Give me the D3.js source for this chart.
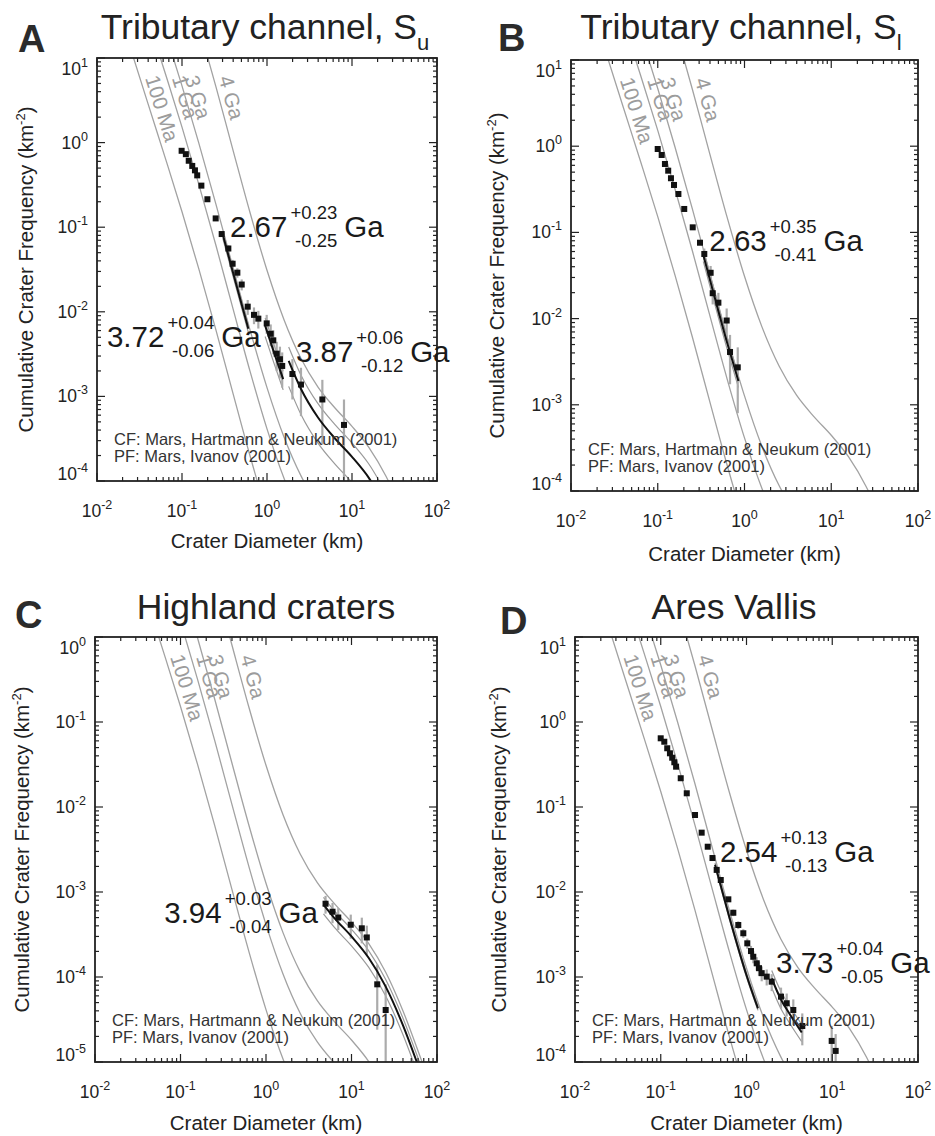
<!DOCTYPE html>
<html>
<head>
<meta charset="utf-8">
<script src="https://cdn.jsdelivr.net/npm/d3@7"></script>
<style>
  body { margin: 0; background: #fff; }
  text { font-family: "Liberation Sans", Arial, Helvetica, sans-serif; fill: #222; }
</style>
</head>
<body>
<svg id="fig" width="935" height="1136"></svg>
<script>
// isochrons (Hartmann & Neukum 2001 CF, Ivanov 2001 PF), cumulative N (km^-2) at these diameters (km)
const isoDiam = [0.0251, 0.0398, 0.0631, 0.1, 0.158, 0.251, 0.398, 0.631, 1, 1.585, 2.512, 3.981, 6.31, 10, 15.85, 25.12, 39.81, 63.1, 100];
const iso100Ma = [12.49, 2.891, 0.6737, 0.1524, 0.0319, 0.006077, 0.001088, 1.989e-4, 4.13e-5, 1.077e-5, 3.743e-6];
const iso1Ga = [124.9, 28.91, 6.737, 1.524, 0.319, 0.06077, 0.01088, 0.001989, 4.13e-4, 1.077e-4, 3.743e-5, 1.723e-5, 9.734e-6, 5.91e-6];
const iso3Ga = [383.2, 88.72, 20.68, 4.676, 0.9793, 0.1865, 0.03341, 0.006105, 0.001268, 3.306e-4, 1.149e-4, 5.288e-5, 2.988e-5, 1.814e-5, 1.018e-5, 4.66e-6];
const iso4Ga = [9357, 2165, 504.9, 114.2, 23.9, 4.553, 0.8155, 0.1491, 0.03094, 0.008071, 0.002805, 0.001291, 7.294e-4, 4.429e-4, 2.484e-4, 1.137e-4, 4.039e-5, 1.175e-5, 3.261e-6];
const isoNames = ["100 Ma", "1 Ga", "3 Ga", "4 Ga"];
const isochrons = [iso100Ma, iso1Ga, iso3Ga, iso4Ga];

// A: tributary channel, upper surface
const aDiam = [0.099, 0.111, 0.120, 0.132, 0.142, 0.151, 0.169, 0.199, 0.249, 0.293, 0.351, 0.394, 0.448, 0.504, 0.593, 0.703, 0.791, 0.992, 1.105, 1.186, 1.30, 1.42, 1.51, 1.99, 2.51, 4.48, 8.05];
const aFreq = [0.80, 0.73, 0.61, 0.53, 0.47, 0.41, 0.31, 0.214, 0.127, 0.083, 0.056, 0.037, 0.029, 0.021, 0.0115, 0.0092, 0.0083, 0.0073, 0.0055, 0.0046, 0.0032, 0.00275, 0.00229, 0.00184, 0.00138, 0.00092, 0.00046];
const aLo = [null, null, null, null, null, null, null, null, null, null, 0.0509, 0.0329, 0.0253, 0.0179, 0.0092, 0.00714, 0.00634, 0.0055, 0.00391, 0.00315, 0.00199, 0.00163, 0.00127, 0.00092, 0.000584, 0.00027, 1e-7];
const aHi = [null, null, null, null, null, null, null, null, null, null, 0.0611, 0.0411, 0.0327, 0.0241, 0.0138, 0.01126, 0.01026, 0.0092, 0.00709, 0.00605, 0.00442, 0.00387, 0.00331, 0.00276, 0.00218, 0.00157, 0.00092];

// B: tributary channel, lower surface
const bDiam = [0.0999, 0.111, 0.121, 0.132, 0.142, 0.154, 0.173, 0.202, 0.253, 0.307, 0.344, 0.407, 0.430, 0.50, 0.623, 0.681, 0.836];
const bFreq = [0.928, 0.791, 0.622, 0.52, 0.425, 0.355, 0.279, 0.187, 0.1145, 0.0759, 0.0562, 0.034, 0.0197, 0.0153, 0.0095, 0.0041, 0.00272];
const bLo = [null, null, null, null, null, null, null, null, null, null, 0.0474, 0.0272, 0.0146, 0.0107, 0.0059, 0.00173, 0.0008];
const bHi = [null, null, null, null, null, null, null, null, null, null, 0.065, 0.0408, 0.0248, 0.0199, 0.0131, 0.00647, 0.00464];

// C: highland craters
const cDiam = [4.97, 6.0, 7.0, 9.8, 13.2, 15.1, 20.0, 25.1];
const cFreq = [7.28e-4, 5.86e-4, 5.01e-4, 4.12e-4, 3.74e-4, 2.92e-4, 8.2e-5, 4.09e-5];
const cLo = [5.56e-4, 4.29e-4, 3.56e-4, 2.82e-4, 2.49e-4, 1.82e-4, 2.4e-5, 1e-7];
const cHi = [9.0e-4, 7.42e-4, 6.46e-4, 5.42e-4, 4.99e-4, 4.02e-4, 1.4e-4, 8.18e-5];

// D: Ares Vallis
const dDiam = [0.0999, 0.110, 0.119, 0.128, 0.136, 0.144, 0.151, 0.171, 0.201, 0.251, 0.300, 0.353, 0.401, 0.449, 0.501, 0.614, 0.702, 0.802, 0.918, 1.022, 1.128, 1.20, 1.315, 1.399, 1.504, 1.72, 1.967, 2.526, 2.943, 3.514, 4.474, 9.85, 10.96];
const dFreq = [0.643, 0.586, 0.491, 0.4285, 0.38, 0.336, 0.298, 0.218, 0.145, 0.0805, 0.0499, 0.0341, 0.0251, 0.0182, 0.01384, 0.0082, 0.0057, 0.00409, 0.00327, 0.00249, 0.00202, 0.00173, 0.00145, 0.00127, 0.00111, 0.00101, 8.81e-4, 5.87e-4, 4.91e-4, 4.09e-4, 2.65e-4, 1.77e-4, 1.35e-4];
const dLo = [null, null, null, null, null, null, null, null, null, null, null, null, null, null, null, null, 5.2e-3, 3.66e-3, 2.89e-3, 2.15e-3, 1.72e-3, 1.45e-3, 1.19e-3, 1.03e-3, 8.9e-4, 7.95e-4, 6.82e-4, 4.24e-4, 3.43e-4, 2.73e-4, 1.57e-4, 8.85e-5, 5.7e-5];
const dHi = [null, null, null, null, null, null, null, null, null, null, null, null, null, null, null, null, 6.2e-3, 4.52e-3, 3.65e-3, 2.83e-3, 2.32e-3, 2.01e-3, 1.71e-3, 1.51e-3, 1.33e-3, 1.225e-3, 1.08e-3, 7.5e-4, 6.39e-4, 5.45e-4, 3.73e-4, 2.66e-4, 2.13e-4];

// model age fits: isochron of the fitted age over the fit range, plus upper/lower age bounds
const aFits = [
  {diam: [0.302, 0.398, 0.501, 0.603], freq: [0.08177, 0.02913, 0.01245, 0.006311],
   upper: [0.0904, 0.03221, 0.01377, 0.006979], lower: [0.07395, 0.02635, 0.01126, 0.005708]},
  {diam: [0.951, 1.202, 1.549], freq: [0.006833, 0.003357, 0.001602],
   upper: [0.008445, 0.00415, 0.001982], lower: [0.005097, 0.002504, 0.001196]},
  {diam: [1.799, 2.512, 3.981, 6.31, 10, 15.85, 25.12], freq: [2.633e-3, 1.223e-3, 5.63e-4, 3.18e-4, 1.931e-4, 1.083e-4, 4.96e-5],
   upper: [3.834e-3, 1.782e-3, 8.204e-4, 4.634e-4, 2.814e-4, 1.578e-4, 7.224e-5], lower: [1.313e-3, 6.099e-4, 2.808e-4, 1.586e-4, 9.632e-5, 5.403e-5, 2.473e-5]}
];
const bFits = [
  {diam: [0.335, 0.398, 0.631, 0.851], freq: [0.05465, 0.02868, 0.005242, 0.001887],
   upper: [0.06307, 0.03309, 0.006047, 0.002177], lower: [0.04605, 0.02416, 0.004417, 0.00159]}
];
const cFits = [
  {diam: [4.699, 6.31, 10, 15.85, 25.12, 39.81, 63.1, 100], freq: [7.118e-4, 4.94e-4, 2.999e-4, 1.682e-4, 7.699e-5, 2.735e-5, 7.957e-6, 2.208e-6],
   upper: [8.64e-4, 5.995e-4, 3.64e-4, 2.042e-4, 9.346e-5, 3.32e-5, 9.658e-6, 2.68e-6], lower: [5.522e-4, 3.831e-4, 2.326e-4, 1.305e-4, 5.973e-5, 2.121e-5, 6.171e-6, 1.713e-6]}
];
const dFits = [
  {diam: [0.4295, 0.631, 1, 1.361], freq: [0.0209, 0.005058, 0.00105, 4.267e-4],
   upper: [0.022, 0.005324, 0.001106, 4.492e-4], lower: [0.01982, 0.004797, 9.959e-4, 4.046e-4]},
  {diam: [1.968, 2.512, 3.162, 4.406], freq: [9.603e-4, 5.483e-4, 3.72e-4, 2.226e-4],
   upper: [1.191e-3, 6.804e-4, 4.617e-4, 2.762e-4], lower: [7.474e-4, 4.269e-4, 2.895e-4, 1.733e-4]}
];

// fitted ages, placed at (diameter, frequency)
const aAges = [
  {diam: 0.367, freq: 0.0766, age: "2.67", plus: "+0.23", minus: "-0.25"},
  {diam: 0.0131, freq: 0.00387, age: "3.72", plus: "+0.04", minus: "-0.06"},
  {diam: 2.19, freq: 0.00257, age: "3.87", plus: "+0.06", minus: "-0.12"}
];
const bAges = [{diam: 0.393, freq: 0.0613, age: "2.63", plus: "+0.35", minus: "-0.41"}];
const cAges = [{diam: 0.0646, freq: 4.28e-4, age: "3.94", plus: "+0.03", minus: "-0.04"}];
const dAges = [
  {diam: 0.491, freq: 0.0225, age: "2.54", plus: "+0.13", minus: "-0.13"},
  {diam: 2.21, freq: 0.00111, age: "3.73", plus: "+0.04", minus: "-0.05"}
];

const panels = [
  {id: "A", title: "Tributary channel, S", sub: "u", box: [97, 58, 437, 481], yDom: [1e-4, 10],
   diam: aDiam, freq: aFreq, lo: aLo, hi: aHi, fits: aFits, ages: aAges,
   titleX: 265, titleY: 39, letterX: 18, letterY: 52, xLabDy: 67, yLabDx: 64},
  {id: "B", title: "Tributary channel, S", sub: "l", box: [571, 60, 918, 491], yDom: [1e-4, 10],
   diam: bDiam, freq: bFreq, lo: bLo, hi: bHi, fits: bFits, ages: bAges,
   titleX: 741, titleY: 39, letterX: 498, letterY: 51, xLabDy: 70, yLabDx: 67},
  {id: "C", title: "Highland craters", sub: null, box: [95, 637, 437, 1062], yDom: [1e-5, 1],
   diam: cDiam, freq: cFreq, lo: cLo, hi: cHi, fits: cFits, ages: cAges,
   titleX: 266, titleY: 619, letterX: 15, letterY: 628, xLabDy: 68, yLabDx: 66},
  {id: "D", title: "Ares Vallis", sub: null, box: [575, 637, 918, 1062], yDom: [1e-4, 10],
   diam: dDiam, freq: dFreq, lo: dLo, hi: dHi, fits: dFits, ages: dAges,
   titleX: 734, titleY: 619, letterX: 500, letterY: 634, xLabDy: 68, yLabDx: 69}
];

const svg = d3.select("#fig");
const ink = "#222";
const isoGray = "#a2a2a2";

panels.forEach(drawPanel);

function drawPanel(p) {
  const [x0, y0, x1, y1] = p.box;
  const x = d3.scaleLog().domain([0.01, 100]).range([x0, x1]);
  const y = d3.scaleLog().domain(p.yDom).range([y1, y0]);
  const g = svg.append("g").attr("id", "panel-" + p.id);

  g.append("clipPath").attr("id", "clip-" + p.id)
    .append("rect").attr("x", x0).attr("y", y0).attr("width", x1 - x0).attr("height", y1 - y0);
  const plot = g.append("g").attr("clip-path", "url(#clip-" + p.id + ")");

  const line = d3.line().x(d => x(d[0])).y(d => y(d[1])).curve(d3.curveMonotoneX);

  // isochrons + rotated labels near the top of the frame
  isochrons.forEach((iso, k) => {
    const pts = iso.map((n, i) => [isoDiam[i], n]);
    plot.append("path").attr("d", line(pts))
      .attr("fill", "none").attr("stroke", isoGray).attr("stroke-width", 1.3);

    const px = pts.map(d => [x(d[0]), y(d[1])]);
    const ty = y0 + 20;
    const i = px.findIndex((q, j) => j < px.length - 1 && q[1] <= ty && px[j + 1][1] >= ty);
    if (i < 0) return;
    const a = px[i], b = px[i + 1];
    const t = (ty - a[1]) / (b[1] - a[1]);
    const lx = a[0] + t * (b[0] - a[0]);
    const ang = Math.atan2(b[1] - a[1], b[0] - a[0]) * 180 / Math.PI;
    plot.append("text")
      .attr("transform", "translate(" + (lx + 5) + "," + ty + ") rotate(" + ang + ")")
      .attr("font-size", 20.5).style("fill", "#9c9c9c")
      .text(isoNames[k]);
  });

  // age bounds (gray) under everything else
  p.fits.forEach(f => {
    [f.upper, f.lower].forEach(arr => {
      plot.append("path").attr("d", line(f.diam.map((d, i) => [d, arr[i]])))
        .attr("fill", "none").attr("stroke", "#9a9a9a").attr("stroke-width", 1.2);
    });
  });

  // error bars
  p.diam.forEach((d, i) => {
    if (p.lo[i] == null) return;
    plot.append("line")
      .attr("x1", x(d)).attr("x2", x(d))
      .attr("y1", y(p.hi[i])).attr("y2", y(p.lo[i]))
      .attr("stroke", "#ababab").attr("stroke-width", 2.2);
  });

  // crater frequency points
  plot.selectAll("rect.pt").data(p.diam.map((d, i) => [d, p.freq[i]]))
    .join("rect").attr("class", "pt")
    .attr("x", d => x(d[0]) - 3).attr("y", d => y(d[1]) - 3)
    .attr("width", 6).attr("height", 6).attr("fill", "#111");

  // fitted isochrons
  p.fits.forEach(f => {
    plot.append("path").attr("d", line(f.diam.map((d, i) => [d, f.freq[i]])))
      .attr("fill", "none").attr("stroke", "#111").attr("stroke-width", 2);
  });

  // frame and ticks on all four sides, pointing inward
  g.append("rect").attr("x", x0).attr("y", y0).attr("width", x1 - x0).attr("height", y1 - y0)
    .attr("fill", "none").attr("stroke", ink).attr("stroke-width", 1.8);

  const isMajor = v => Math.abs(Math.log10(v) - Math.round(Math.log10(v))) < 1e-6;
  const ticks = g.append("g").attr("stroke", ink).attr("stroke-width", 1.2);
  x.ticks().forEach(v => {
    const len = isMajor(v) ? 8 : 4, xx = x(v);
    ticks.append("line").attr("x1", xx).attr("x2", xx).attr("y1", y1).attr("y2", y1 - len);
    ticks.append("line").attr("x1", xx).attr("x2", xx).attr("y1", y0).attr("y2", y0 + len);
  });
  y.ticks().forEach(v => {
    const len = isMajor(v) ? 8 : 4, yy = y(v);
    ticks.append("line").attr("x1", x0).attr("x2", x0 + len).attr("y1", yy).attr("y2", yy);
    ticks.append("line").attr("x1", x1).attr("x2", x1 - len).attr("y1", yy).attr("y2", yy);
  });

  // tick labels 10^n
  x.ticks().filter(isMajor).forEach(v => {
    const e = Math.round(Math.log10(v));
    const t = g.append("text").attr("x", x(v)).attr("y", y1 + 36)
      .attr("text-anchor", "middle").attr("font-size", 17.5);
    t.append("tspan").text("10");
    t.append("tspan").attr("dy", -8).attr("font-size", 12.5).text(e);
  });
  const yMaj = y.ticks().filter(isMajor);
  yMaj.forEach((v, k) => {
    const e = Math.round(Math.log10(v));
    let by = y(v) + 6;
    if (k === 0) by = y(v) - 1;
    if (k === yMaj.length - 1) by = y(v) + 17;
    const t = g.append("text").attr("x", x0 - 9).attr("y", by)
      .attr("text-anchor", "end").attr("font-size", 17.5);
    t.append("tspan").text("10");
    t.append("tspan").attr("dy", -8).attr("font-size", 12.5).text(e);
  });

  // axis titles
  g.append("text").attr("x", (x0 + x1) / 2).attr("y", y1 + p.xLabDy)
    .attr("text-anchor", "middle").attr("font-size", 20.5).text("Crater Diameter (km)");
  const yl = g.append("text")
    .attr("transform", "translate(" + (x0 - p.yLabDx) + "," + (y0 + y1) / 2 + ") rotate(-90)")
    .attr("text-anchor", "middle").attr("font-size", 20.5);
  yl.append("tspan").text("Cumulative Crater Frequency (km");
  yl.append("tspan").attr("dy", -8).attr("font-size", 13).text("-2");
  yl.append("tspan").attr("dy", 8).text(")");

  // source notes
  g.append("text").attr("x", x0 + 17).attr("y", y1 - 36).attr("font-size", 16.5)
    .style("fill", "#333").text("CF: Mars, Hartmann & Neukum (2001)");
  g.append("text").attr("x", x0 + 17).attr("y", y1 - 19).attr("font-size", 16.5)
    .style("fill", "#333").text("PF: Mars, Ivanov (2001)");

  // fitted ages with +/- errors
  p.ages.forEach(a => drawAge(g, x(a.diam), y(a.freq), a));

  // panel title and letter
  const tt = g.append("text").attr("x", p.titleX).attr("y", p.titleY)
    .attr("text-anchor", "middle").attr("font-size", 35.5);
  tt.append("tspan").text(p.title);
  if (p.sub) tt.append("tspan").attr("dy", 11).attr("font-size", 22).text(p.sub);
  g.append("text").attr("x", p.letterX).attr("y", p.letterY)
    .attr("font-size", 38).attr("font-weight", "bold").style("fill", "#2b2b2b").text(p.id);
}

function drawAge(g, px, py, a) {
  const big = g.append("text").attr("x", px).attr("y", py).attr("font-size", 29.5).style("fill", "#1a1a1a").text(a.age);
  const sx = px + big.node().getComputedTextLength() + 3;
  const sup = g.append("text").attr("y", py - 18).attr("font-size", 18.5).style("fill", "#1a1a1a").text(a.plus);
  const sub = g.append("text").attr("y", py + 10).attr("font-size", 18.5).style("fill", "#1a1a1a").text(a.minus);
  const sw = Math.max(sup.node().getComputedTextLength(), sub.node().getComputedTextLength());
  sup.attr("x", sx + sw).attr("text-anchor", "end");
  sub.attr("x", sx + sw).attr("text-anchor", "end");
  g.append("text").attr("x", sx + sw + 7).attr("y", py).attr("font-size", 29.5).style("fill", "#1a1a1a").text("Ga");
}
</script>
</body>
</html>
